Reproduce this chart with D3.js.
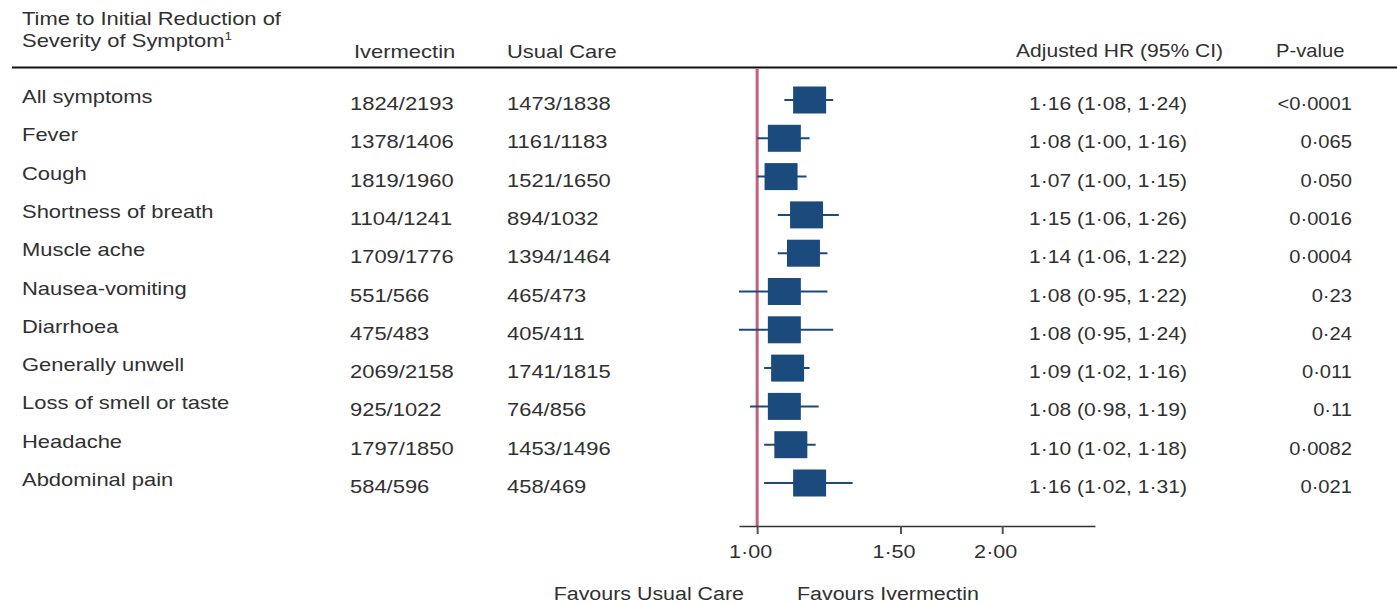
<!DOCTYPE html>
<html>
<head>
<meta charset="utf-8">
<script src="https://cdn.jsdelivr.net/npm/d3@7"></script>
<style>
  html, body { margin: 0; padding: 0; background: #fff; }
  svg { display: block; }
  text { font-family: "Liberation Sans", Arial, sans-serif; fill: #303030; }
</style>
</head>
<body>
<svg id="chart" width="1397" height="603"></svg>
<script>
// ---- data ----
const symptoms = ["All symptoms", "Fever", "Cough", "Shortness of breath", "Muscle ache",
  "Nausea-vomiting", "Diarrhoea", "Generally unwell", "Loss of smell or taste", "Headache", "Abdominal pain"];
const ivermectin = ["1824/2193", "1378/1406", "1819/1960", "1104/1241", "1709/1776",
  "551/566", "475/483", "2069/2158", "925/1022", "1797/1850", "584/596"];
const usualCare = ["1473/1838", "1161/1183", "1521/1650", "894/1032", "1394/1464",
  "465/473", "405/411", "1741/1815", "764/856", "1453/1496", "458/469"];
const hr = [1.16, 1.08, 1.07, 1.15, 1.14, 1.08, 1.08, 1.09, 1.08, 1.10, 1.16];
const ciLow = [1.08, 1.00, 1.00, 1.06, 1.06, 0.95, 0.95, 1.02, 0.98, 1.02, 1.02];
const ciHigh = [1.24, 1.16, 1.15, 1.26, 1.22, 1.22, 1.24, 1.16, 1.19, 1.18, 1.31];
const pValues = ["<0·0001", "0·065", "0·050", "0·0016", "0·0004", "0·23", "0·24",
  "0·011", "0·11", "0·0082", "0·021"];
const tickValues = [1, 1.5, 2];
const axisExtent = [0.95, 2.6];

// ---- layout ----
const svg = d3.select("#chart");
const SXL = 1.22; // horizontal text stretch, left columns
const SXR = 1.17; // right columns
const FS = 18;
const fmt = v => d3.format(".2f")(v).replace(".", "·");

const x = d3.scaleLog().domain(axisExtent).range([739, 1095]);
const y = d3.scalePoint().domain(d3.range(symptoms.length)).range([100, 483]);

function txt(g, s, tx, ty, anchor, sx) {
  return g.append("text")
    .attr("transform", `translate(${tx},${ty}) scale(${sx},1)`)
    .attr("text-anchor", anchor || "start")
    .attr("font-size", FS)
    .text(s);
}

// header
const head = svg.append("g");
txt(head, "Time to Initial Reduction of", 22, 25, "start", SXL);
const t2 = txt(head, "Severity of Symptom", 22, 47, "start", SXL);
t2.append("tspan").attr("font-size", 11).attr("dy", -7).text("1");
txt(head, "Ivermectin", 354, 58, "start", SXL);
txt(head, "Usual Care", 507, 58, "start", SXL);
txt(head, "Adjusted HR (95% CI)", 1016, 57, "start", SXR);
txt(head, "P-value", 1276, 57, "start", 1.12);
svg.append("line").attr("x1", 12).attr("x2", 1397).attr("y1", 67.5).attr("y2", 67.5)
  .attr("stroke", "#111").attr("stroke-width", 2);

// reference line at HR = 1
svg.append("line")
  .attr("x1", x(1)).attr("x2", x(1)).attr("y1", 68).attr("y2", 527)
  .attr("stroke", "#c4607c").attr("stroke-width", 3);

// axis
const axis = d3.axisBottom(x).tickValues(tickValues).tickFormat(fmt).tickSize(8).tickSizeOuter(0);
const ag = svg.append("g").attr("transform", "translate(0,526)").call(axis);
ag.select(".domain").attr("stroke", "#333").attr("stroke-width", 1.5);
ag.selectAll(".tick line").attr("stroke", "#555").attr("stroke-width", 2);
ag.selectAll(".tick text")
  .attr("font-size", FS).attr("fill", "#303030").attr("dy", 0).attr("y", 0)
  .attr("font-family", "Liberation Sans, Arial, sans-serif")
  .attr("x", 0)
  .attr("transform", `translate(-7,32) scale(1.2,1)`);

txt(svg, "Favours Usual Care", 744, 600, "end", 1.19);
txt(svg, "Favours Ivermectin", 797, 600, "start", 1.19);

// rows
const rows = svg.append("g").selectAll("g").data(symptoms).join("g");
rows.each(function (d, i) {
  const g = d3.select(this);
  const yc = y(i);
  txt(g, d, 22, yc + 3, "start", SXL);
  txt(g, ivermectin[i], 350, yc + 10, "start", SXL);
  txt(g, usualCare[i], 507, yc + 10, "start", SXL);
  txt(g, `${fmt(hr[i])} (${fmt(ciLow[i])}, ${fmt(ciHigh[i])})`, 1029, yc + 10, "start", SXR);
  txt(g, pValues[i], 1352, yc + 10, "end", 1.12);
  g.append("line")
    .attr("x1", x(ciLow[i])).attr("x2", x(ciHigh[i]))
    .attr("y1", yc).attr("y2", yc)
    .attr("stroke", "#1b4b7d").attr("stroke-width", 2);
  g.append("rect")
    .attr("x", x(hr[i]) - 16.5).attr("y", yc - 13.5)
    .attr("width", 33).attr("height", 27)
    .attr("fill", "#1b4b7d");
});
</script>
</body>
</html>
